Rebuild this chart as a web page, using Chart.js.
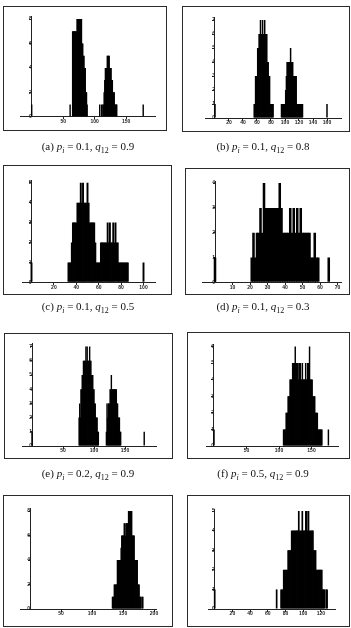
<!DOCTYPE html>
<html>
<head>
<meta charset="utf-8">
<title>Histograms</title>
<script src="https://cdn.jsdelivr.net/npm/chart.js"></script>
<style>
  body { margin: 0; width: 351px; height: 628px; background: #fff; position: relative; overflow: hidden; }
  canvas { position: absolute; }
  .frame { position: absolute; border: 1px solid #2b2b2b; box-sizing: border-box; pointer-events: none; }
  .caption { position: absolute; width: 170px; margin-left: -85px; text-align: center; font-family: 'Liberation Serif', 'DejaVu Serif', serif; font-size: 11px; line-height: 12px; color: #111; white-space: nowrap; }
  .caption sub { font-size: 8px; vertical-align: -3px; line-height: 0; }
</style>
</head>
<body>
<script>
// histogram data: each run = first bin value, then the counts of the following bins
const histA = [
    [0, 1],
    [61, 1],
    [65, 7, 7, 7, 7, 7, 7, 7, 8, 8, 8, 8, 8, 8, 8, 8, 6, 6, 5, 5, 4, 4, 2, 2, 1],
    [108, 1],
    [111, 1],
    [113, 1, 1, 2, 3, 4, 4, 4, 5, 5, 5, 5, 4, 4, 4, 3, 3, 2, 2, 2, 1, 1, 1, 1],
    [177, 1]
];
const histB = [
    [0, 1],
    [56, 1, 1, 3, 3, 3, 5, 5, 6, 6, 7, 6, 6, 7, 6, 6, 7, 6, 6, 6, 4, 4, 3, 3, 1, 1, 1, 1, 1],
    [95, 1, 1, 1, 1, 1, 1, 2, 3, 4, 4, 4, 4, 4, 5, 4, 4, 4, 3, 3, 3, 3, 3, 1, 1, 1, 1, 1, 1, 1, 1, 1],
    [160, 1]
];
const histC = [
    [0, 1],
    [33, 1, 1, 1, 2, 3, 3, 3, 3, 4, 4, 4, 5, 4, 5, 4, 4, 4, 5, 4, 3, 3, 3, 3, 3, 2, 1, 1, 1, 1,
        2, 2, 2, 2, 2, 2, 3, 2, 3, 2, 2, 3, 2, 3, 2, 2, 1, 1, 1, 1, 1, 1, 1, 1, 1],
    [100, 1]
];
const histD = [
    [0, 1],
    [21, 1, 2, 1, 2, 2, 3, 2, 4, 3, 3, 3, 3, 3, 3, 3, 3, 4, 3, 2, 2, 2, 2, 3, 2, 3, 2, 3, 2, 3,
        2, 2, 2, 2, 2, 1, 1, 2, 1, 1],
    [65, 1]
];
const histE = [
    [0, 1],
    [76, 2, 3, 2, 4, 4, 5, 5, 6, 6, 6, 6, 7, 6, 7, 6, 6, 6, 7, 6, 6, 5, 5, 5, 4, 4, 3, 3, 2, 2, 2, 1, 1],
    [120, 1, 3, 2, 3, 3, 3, 4, 4, 5, 4, 4, 4, 4, 4, 4, 4, 4, 3, 3, 2, 2, 2, 1, 1],
    [181, 1]
];
const histF = [
    [0, 1],
    [107, 1, 1, 1, 1, 2, 2, 2, 3, 3, 3, 4, 4, 4, 4, 5, 5, 5, 5, 6, 5, 5, 5, 5, 4, 5, 5, 5, 4, 4, 5,
        4, 4, 4, 4, 5, 4, 4, 5, 5, 5, 6, 4, 4, 4, 4, 3, 3, 3, 3, 2, 2, 2, 2, 1, 1, 1, 1, 1, 1, 1],
    [176, 1]
];
const histG = [
    [133, 1, 1, 1, 2, 2, 2, 2, 2, 4, 4, 4, 4, 4, 4, 5, 6, 6, 6, 6, 7, 7, 6, 7, 7, 7, 7,
        8, 8, 8, 8, 8, 8, 6, 6, 6, 6, 4, 4, 4, 4, 4, 2, 2, 2, 1, 1, 1],
    [181, 1, 1]
];
const histH = [
    [0, 1],
    [70, 1],
    [75, 1, 1, 1, 2, 2, 2, 2, 2, 3, 3, 3, 3, 4, 4, 4, 4, 4, 4, 4, 4, 5, 4, 4, 4, 5, 4, 4, 4, 5, 5,
        4, 5, 4, 4, 4, 4, 4, 3, 3, 3, 2, 2, 2, 2, 2, 2, 2, 1, 1, 1],
    [126, 1, 1]
];

// tick labels
const xTicksA = [50, 100, 150];
const yTicksA = [0, 2, 4, 6, 8];
const xTicksB = [20, 40, 60, 80, 100, 120, 140, 160];
const yTicksB = [0, 1, 2, 3, 4, 5, 6, 7];
const xTicksC = [20, 40, 60, 80, 100];
const yTicksC = [0, 1, 2, 3, 4, 5];
const xTicksD = [10, 20, 30, 40, 50, 60, 70];
const yTicksD = [0, 1, 2, 3, 4];
const xTicksE = [50, 100, 150];
const yTicksE = [0, 1, 2, 3, 4, 5, 6, 7];
const xTicksF = [50, 100, 150];
const yTicksF = [0, 1, 2, 3, 4, 5, 6];
const xTicksG = [50, 100, 150, 200];
const yTicksG = [0, 2, 4, 6, 8];
const xTicksH = [20, 40, 60, 80, 100, 120];
const yTicksH = [0, 1, 2, 3, 4, 5];

// captions
const captionTags = ['a', 'b', 'c', 'd', 'e', 'f'];
const pValues = ['0.1', '0.1', '0.1', '0.1', '0.2', '0.5'];
const qValues = ['0.9', '0.8', '0.5', '0.3', '0.9', '0.9'];

// where each panel sits on the page: frame box, pixel of (0,0), px per unit, axis ranges
const panels = [
    { hist: histA, xTicks: xTicksA, yTicks: yTicksA, frame: [3, 6, 167, 131], ox: 31.7, oy: 116.7, sx: 0.63, sy: 12.2, xMin: -17, xMax: 196, yMax: 8.2 },
    { hist: histB, xTicks: xTicksB, yTicks: yTicksB, frame: [182, 6, 350, 132], ox: 215, oy: 118, sx: 0.70, sy: 14.0, xMin: -14, xMax: 181, yMax: 7.2 },
    { hist: histC, xTicks: xTicksC, yTicks: yTicksC, frame: [3, 165, 172, 295], ox: 31.5, oy: 282.3, sx: 1.12, sy: 19.9, xMin: -8, xMax: 111, yMax: 5.1 },
    { hist: histD, xTicks: xTicksD, yTicks: yTicksD, frame: [185, 168, 350, 295], ox: 215, oy: 282.3, sx: 1.75, sy: 24.8, xMin: -7, xMax: 72, yMax: 4.05 },
    { hist: histE, xTicks: xTicksE, yTicks: yTicksE, frame: [4, 333, 173, 459], ox: 32, oy: 446, sx: 0.62, sy: 14.2, xMin: -16, xMax: 200, yMax: 7.2 },
    { hist: histF, xTicks: xTicksF, yTicks: yTicksF, frame: [187, 332, 350, 459], ox: 214, oy: 446, sx: 0.65, sy: 16.6, xMin: -12, xMax: 192, yMax: 6.1 },
    { hist: histG, xTicks: xTicksG, yTicks: yTicksG, frame: [3, 495, 173, 627], ox: 30, oy: 609, sx: 0.62, sy: 12.25, xMin: -15, xMax: 204, yMax: 8.2 },
    { hist: histH, xTicks: xTicksH, yTicks: yTicksH, frame: [187, 495, 350, 627], ox: 214.7, oy: 609, sx: 0.885, sy: 19.6, xMin: -7.5, xMax: 136, yMax: 5.1 }
];
const captionPos = [[88, 140], [263, 140], [88, 300], [263, 300], [88, 467], [263, 467]];

const tickFont = { family: "'Liberation Sans', Arial, sans-serif", size: 5, weight: 'bold' };

function runsToPoints (runs) {
    const points = [];
    runs.forEach(run => {
        for (let i = 1; i < run.length; i++) {
            points.push({ x: run[0] + i - 1, y: run[i] });
        }
    });
    return points;
}

function drawPanel (p) {
    const [l, t, r, b] = p.frame;
    const canvas = document.createElement('canvas');
    canvas.width = r - l;
    canvas.height = b - t;
    canvas.style.left = l + 'px';
    canvas.style.top = t + 'px';
    document.body.appendChild(canvas);

    const box = document.createElement('div');
    box.className = 'frame';
    box.style.left = l + 'px';
    box.style.top = t + 'px';
    box.style.width = (r - l) + 'px';
    box.style.height = (b - t) + 'px';
    document.body.appendChild(box);

    const padding = {
        left: p.ox + p.xMin * p.sx - l,
        right: r - (p.ox + p.xMax * p.sx),
        top: p.oy - p.yMax * p.sy - t,
        bottom: b - p.oy
    };
    // bins are widened a little so neighbours overlap and the clusters print solid
    const barPct = (p.sx + 0.8) / p.sx;

    new Chart(canvas, {
        type: 'bar',
        data: {
            datasets: [{
                data: runsToPoints(p.hist),
                backgroundColor: '#000',
                borderWidth: 0,
                barPercentage: barPct,
                categoryPercentage: 1
            }]
        },
        options: {
            responsive: false,
            animation: false,
            layout: { padding: padding },
            plugins: { legend: { display: false }, tooltip: { enabled: false } },
            scales: {
                x: {
                    type: 'linear',
                    min: p.xMin,
                    max: p.xMax,
                    offset: false,
                    position: { y: 0 },
                    afterBuildTicks: s => { s.ticks = p.xTicks.map(v => ({ value: v })); },
                    grid: { drawOnChartArea: false, offset: false, tickLength: 2, color: '#222' },
                    border: { display: true, color: '#222', width: 1 },
                    ticks: { font: tickFont, color: '#222', padding: 0, maxRotation: 0, autoSkip: false }
                },
                y: {
                    type: 'linear',
                    min: 0,
                    max: p.yMax,
                    position: { x: 0 },
                    afterBuildTicks: s => { s.ticks = p.yTicks.map(v => ({ value: v })); },
                    grid: { drawOnChartArea: false, tickLength: 2, color: '#222' },
                    border: { display: true, color: '#222', width: 1 },
                    ticks: { font: tickFont, color: '#222', padding: 0, autoSkip: false }
                }
            }
        }
    });
}

panels.forEach(drawPanel);

captionTags.forEach((tag, i) => {
    const cap = document.createElement('div');
    cap.className = 'caption';
    cap.style.left = captionPos[i][0] + 'px';
    cap.style.top = captionPos[i][1] + 'px';
    cap.innerHTML = '(' + tag + ') <i>p</i><sub><i>i</i></sub> = ' + pValues[i] +
        ', <i>q</i><sub>12</sub> = ' + qValues[i];
    document.body.appendChild(cap);
});
</script>
</body>
</html>
